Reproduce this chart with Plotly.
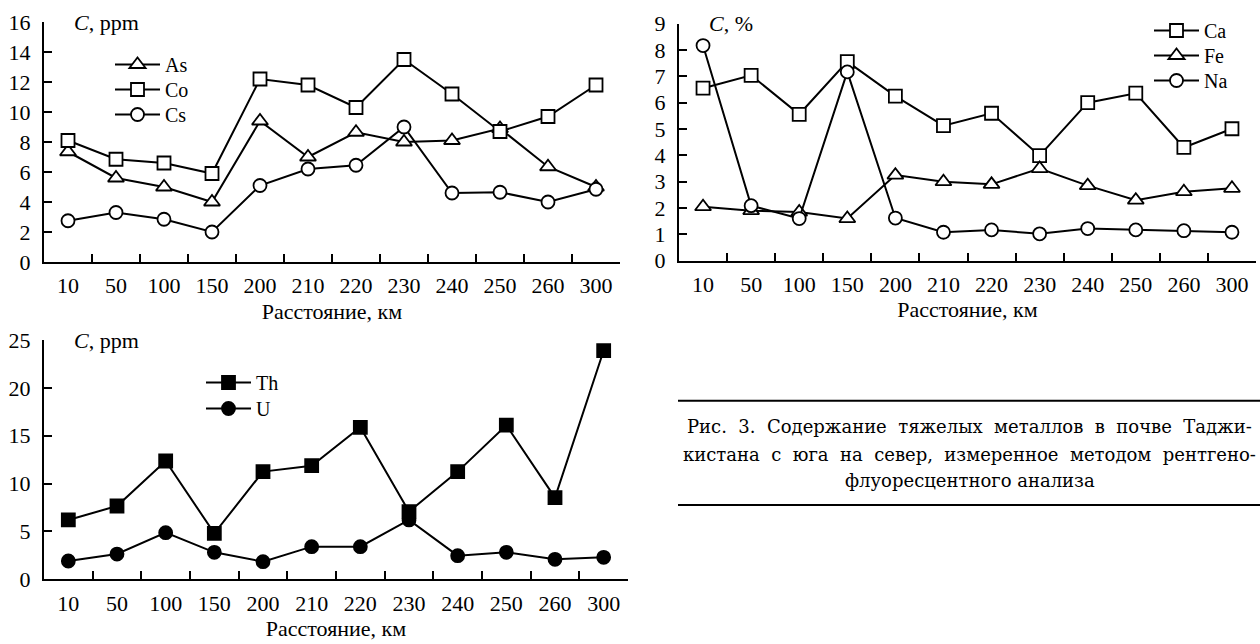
import plotly.graph_objects as go

distances = ["10", "50", "100", "150", "200", "210", "220", "230", "240", "250", "260", "300"]

# Panel 1 (ppm)
as_vals = [7.35, 5.6, 5.0, 4.0, 9.4, 7.0, 8.65, 8.0, 8.1, 8.9, 6.35, 5.0]
co_vals = [8.1, 6.85, 6.6, 5.9, 12.2, 11.8, 10.3, 13.5, 11.2, 8.7, 9.7, 11.8]
cs_vals = [2.75, 3.3, 2.85, 2.0, 5.1, 6.2, 6.45, 9.0, 4.6, 4.65, 4.0, 4.85]

# Panel 2 (%)
ca_vals = [6.55, 7.04, 5.56, 7.56, 6.25, 5.13, 5.6, 3.99, 6.0, 6.36, 4.3, 5.01]
fe_vals = [2.05, 1.9, 1.85, 1.6, 3.25, 3.0, 2.9, 3.5, 2.85, 2.3, 2.62, 2.75]
na_vals = [8.17, 2.09, 1.6, 7.17, 1.62, 1.08, 1.17, 1.02, 1.22, 1.17, 1.14, 1.08]

# Panel 3 (ppm)
th_vals = [6.2, 7.66, 12.36, 4.8, 11.25, 11.87, 15.88, 7.07, 11.25, 16.1, 8.53, 23.9]
u_vals = [1.91, 2.64, 4.87, 2.82, 1.84, 3.41, 3.41, 6.2, 2.47, 2.82, 2.09, 2.3]

x_title = "Расстояние, км"
NB = "\u00a0"
caption_lines = [
    "Рис. 3. Содержание тяжелых металлов в почве Таджи-",
    "кистана с юга на север, измеренное методом рентгено-",
    "флуоресцентного анализа",
]

FONT = "Liberation Serif"
CAP_FONT = "DejaVu Serif"
W, H = 1260, 644


def px_x(p):
    return p / W


def px_y(p):
    return 1 - p / H


fig = go.Figure()

# (name, values, symbol, filled, xaxis, yaxis, legend id, legend symbol-centre x, legend row y)
series = [
    ("As", as_vals, "triangle-up", False, "x", "y", "legend", 135, 65),
    ("Co", co_vals, "square", False, "x", "y", "legend2", 135, 90),
    ("Cs", cs_vals, "circle", False, "x", "y", "legend3", 135, 115),
    ("Ca", ca_vals, "square", False, "x2", "y2", "legend4", 1174, 31),
    ("Fe", fe_vals, "triangle-up", False, "x2", "y2", "legend5", 1174, 56),
    ("Na", na_vals, "circle", False, "x2", "y2", "legend6", 1174, 81),
    ("Th", th_vals, "square", True, "x3", "y3", "legend7", 226, 383),
    ("U", u_vals, "circle", True, "x3", "y3", "legend8", 226, 409),
]

legend_layout = {}
for name, vals, symbol, filled, xa, ya, leg, lx, ly in series:
    fig.add_trace(go.Scatter(
        x=distances, y=vals, name=name, mode="lines+markers",
        xaxis=xa, yaxis=ya, legend=leg,
        line=dict(color="black", width=2),
        marker=dict(symbol=symbol, size=14 if symbol.startswith("triangle") else 13,
                    color="black" if filled else "white",
                    line=dict(color="black", width=1.8)),
    ))
    legend_layout[leg] = dict(x=px_x(lx - 25), y=px_y(ly - 20), xanchor="left", yanchor="top",
                              bgcolor="rgba(0,0,0,0)", itemwidth=45,
                              font=dict(family=FONT, size=20, color="black"))

tickfont = dict(family=FONT, size=22, color="black")

xcommon = dict(type="category", categoryorder="array", categoryarray=distances,
               range=[-0.5, len(distances) - 0.5],
               showline=True, linecolor="black", linewidth=2,
               ticks="inside", tickson="boundaries", ticklen=8, tickwidth=1.5, tickcolor="black",
               showgrid=False, zeroline=False, tickfont=tickfont, ticklabelstandoff=3,
               title=dict(text=x_title, font=dict(family=FONT, size=22, color="black"), standoff=6),
               fixedrange=True)
ycommon = dict(showline=True, linecolor="black", linewidth=2,
               ticks="inside", ticklen=8, tickwidth=1.5, tickcolor="black",
               showgrid=False, zeroline=False, tickfont=tickfont, ticklabelstandoff=7,
               fixedrange=True)

fig.update_layout(
    width=W, height=H,
    margin=dict(l=0, r=0, t=0, b=0, autoexpand=False),
    paper_bgcolor="white", plot_bgcolor="white",
    font=dict(family=FONT, size=20, color="black"),
    xaxis=dict(domain=[px_x(44), px_x(620)], anchor="y", **xcommon),
    yaxis=dict(domain=[px_y(262), px_y(22)], anchor="x", range=[0, 16], dtick=2, **ycommon),
    xaxis2=dict(domain=[px_x(679), px_x(1256)], anchor="y2", **xcommon),
    yaxis2=dict(domain=[px_y(260.7), px_y(23.7)], anchor="x2", range=[0, 9], dtick=1, **ycommon),
    xaxis3=dict(domain=[px_x(44), px_x(628)], anchor="y3", **xcommon),
    yaxis3=dict(domain=[px_y(579.3), px_y(340)], anchor="x3", range=[0, 25], dtick=5, **ycommon),
    showlegend=True,
    **legend_layout,
)

annos = [
    dict(text="<i>C</i>, ppm", x=px_x(72), y=px_y(22)),
    dict(text="<i>C</i>, %", x=px_x(707), y=px_y(24)),
    dict(text="<i>C</i>, ppm", x=px_x(72), y=px_y(340)),
]
for a in annos:
    fig.add_annotation(xref="paper", yref="paper", xanchor="left", yanchor="middle",
                       showarrow=False, font=dict(family=FONT, size=22, color="black"), **a)

# caption: first two lines widened with extra non-breaking spaces, all centred in the box
cap_y = [427, 454, 480]
for i, line in enumerate(caption_lines):
    text = line.replace(" ", " " + NB) if i < 2 else line
    fig.add_annotation(xref="paper", yref="paper", x=px_x(969.5), y=px_y(cap_y[i]),
                       xanchor="center", yanchor="middle", showarrow=False, text=text,
                       font=dict(family=CAP_FONT, size=18, color="black"))

for yy in [400.7, 505]:
    fig.add_shape(type="line", xref="paper", yref="paper", x0=px_x(678), x1=1, y0=px_y(yy), y1=px_y(yy),
                  line=dict(color="black", width=2))

fig.write_html("out.html", config={"displayModeBar": False},
               post_script="document.body.style.margin='0px';")
